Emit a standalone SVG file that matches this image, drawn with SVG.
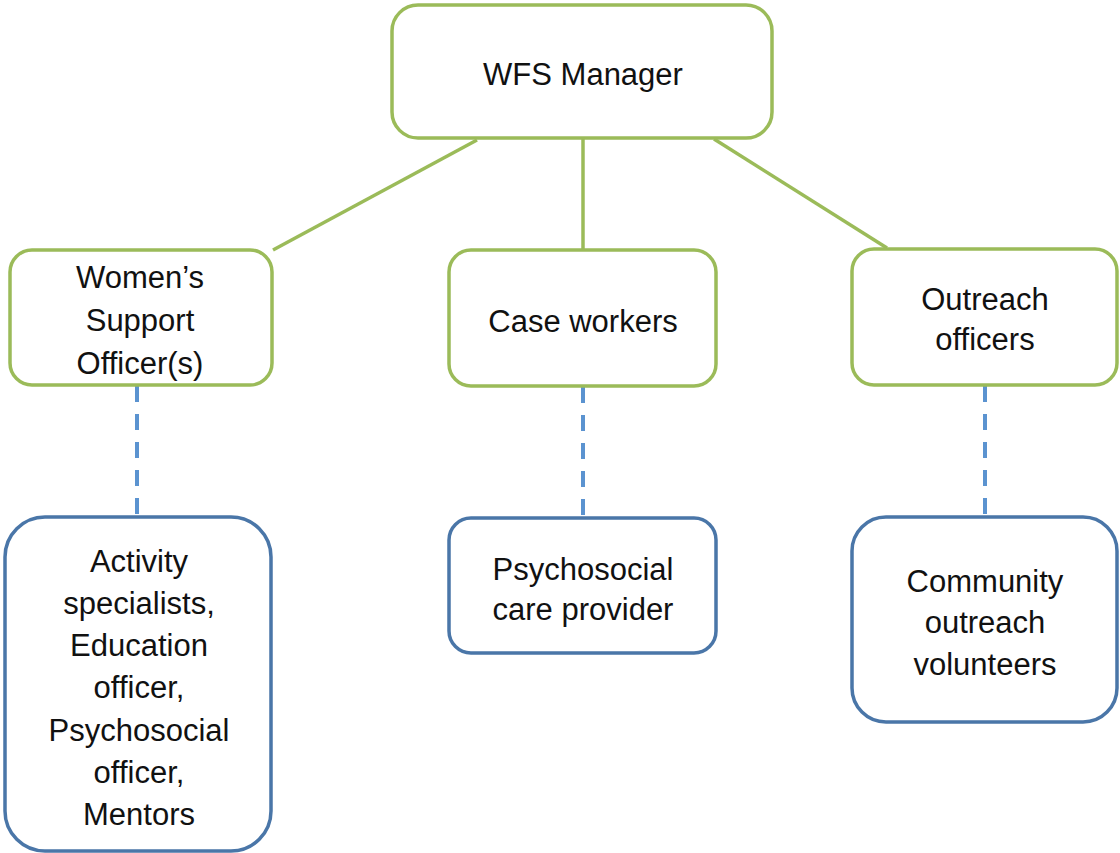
<svg xmlns="http://www.w3.org/2000/svg" width="1120" height="853" viewBox="0 0 1120 853">
<style>
.g{fill:#fff;stroke:#9BBB59;stroke-width:3.5}
.b{fill:#fff;stroke:#4A76A8;stroke-width:3.5}
.cg{stroke:#9BBB59;stroke-width:3.5;fill:none}
.cb{stroke:#5B93D0;stroke-width:4;stroke-dasharray:16 12;fill:none}
text{font-family:"Liberation Sans",Arial,sans-serif;font-size:31px;fill:#111;text-anchor:middle}
</style>
<rect width="1120" height="853" fill="#fff"/>
<g id="connectors">
<line class="cg" x1="477" y1="140" x2="273" y2="250"/>
<line class="cg" x1="583" y1="139" x2="583" y2="250"/>
<line class="cg" x1="714" y1="139" x2="887" y2="248"/>
<line class="cb" x1="137" y1="386" x2="137" y2="517"/>
<line class="cb" x1="583" y1="387" x2="583" y2="517"/>
<line class="cb" x1="985" y1="386" x2="985" y2="517"/>
</g>
<g id="wfs-manager">
<rect class="g" x="392" y="5" width="380" height="133" rx="26"/>
<text x="583" y="85">WFS Manager</text>
</g>
<g id="womens-support">
<rect class="g" x="10" y="250" width="262" height="135" rx="22"/>
<text x="140" y="288">Women’s</text>
<text x="140" y="331">Support</text>
<text x="140" y="374">Officer(s)</text>
</g>
<g id="case-workers">
<rect class="g" x="449" y="250" width="267" height="136" rx="22"/>
<text x="583" y="332">Case workers</text>
</g>
<g id="outreach-officers">
<rect class="g" x="852" y="249" width="265" height="136" rx="22"/>
<text x="985" y="310">Outreach</text>
<text x="985" y="350">officers</text>
</g>
<g id="activity">
<rect class="b" x="5" y="517" width="266" height="334" rx="40"/>
<text x="139" y="572">Activity</text>
<text x="139" y="614">specialists,</text>
<text x="139" y="656">Education</text>
<text x="139" y="698">officer,</text>
<text x="139" y="741">Psychosocial</text>
<text x="139" y="783">officer,</text>
<text x="139" y="825">Mentors</text>
</g>
<g id="psychosocial-care">
<rect class="b" x="449" y="518" width="267" height="135" rx="22"/>
<text x="583" y="580">Psychosocial</text>
<text x="583" y="620">care provider</text>
</g>
<g id="community-outreach">
<rect class="b" x="852" y="517" width="265" height="205" rx="34"/>
<text x="985" y="592">Community</text>
<text x="985" y="633">outreach</text>
<text x="985" y="675">volunteers</text>
</g>
</svg>
